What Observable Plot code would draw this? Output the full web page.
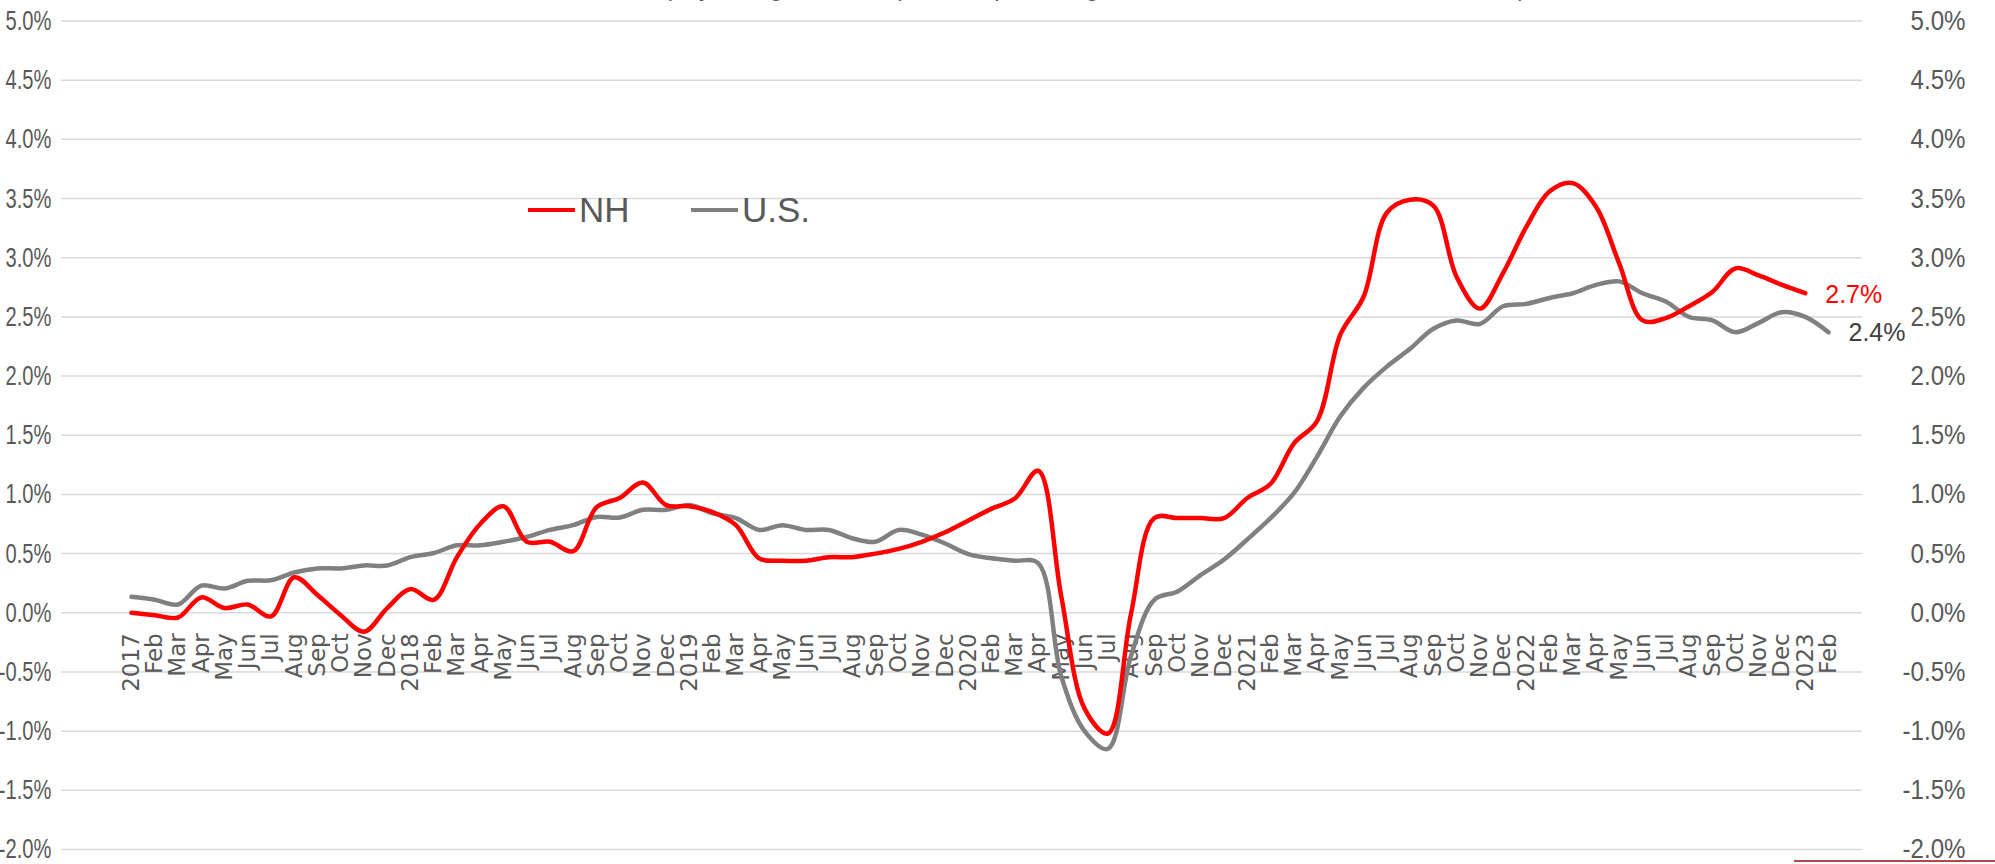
<!DOCTYPE html>
<html><head><meta charset="utf-8">
<script src="https://cdn.jsdelivr.net/npm/d3@7"></script>
<script src="https://cdn.jsdelivr.net/npm/@observablehq/plot@0.6"></script>
<style>
body{margin:0;background:#fff;overflow:hidden}
#wrap{position:relative;width:1995px;height:864px;overflow:hidden}
.leg{position:absolute;display:flex;align-items:center;height:36px;font-family:"Liberation Sans",Arial,sans-serif;font-size:35px;color:#595959}
.leg span.sw{display:inline-block;height:4.5px;margin-right:4px}
#edge{position:absolute;left:1794px;top:860px;width:201px;height:1.5px;background:#b04a4a}
</style></head><body><div id="wrap"></div>
<script>
const titleText = "Employment growth rate (3-month percentage rate of nonfarm total, at an annual rate)";
const xLabels = ["2017","Feb","Mar","Apr","May","Jun","Jul","Aug","Sep","Oct","Nov","Dec",
"2018","Feb","Mar","Apr","May","Jun","Jul","Aug","Sep","Oct","Nov","Dec",
"2019","Feb","Mar","Apr","May","Jun","Jul","Aug","Sep","Oct","Nov","Dec",
"2020","Feb","Mar","Apr","May","Jun","Jul","Aug","Sep","Oct","Nov","Dec",
"2021","Feb","Mar","Apr","May","Jun","Jul","Aug","Sep","Oct","Nov","Dec",
"2022","Feb","Mar","Apr","May","Jun","Jul","Aug","Sep","Oct","Nov","Dec",
"2023","Feb"];
const nhValues = [0.00,-0.02,-0.04,0.13,0.04,0.07,-0.03,0.30,0.15,-0.02,-0.16,0.04,
0.20,0.11,0.47,0.75,0.90,0.60,0.60,0.52,0.89,0.97,1.10,0.91,
0.90,0.85,0.74,0.46,0.44,0.44,0.47,0.47,0.50,0.54,0.60,0.68,
0.78,0.88,0.965,1.20,0.135,-0.81,-1.02,-0.005,0.80,0.80,0.80,0.80,
0.97,1.09,1.43,1.62,2.35,2.67,3.38,3.49,3.44,2.84,2.57,2.87,
3.26,3.56,3.63,3.43,2.95,2.47,2.49,2.59,2.71,2.91,2.85,2.77,
2.70];
const usValues = [0.135,0.11,0.07,0.23,0.205,0.27,0.275,0.34,0.375,0.375,0.40,0.40,
0.47,0.505,0.57,0.57,0.60,0.64,0.70,0.74,0.81,0.805,0.87,0.87,
0.91,0.84,0.80,0.70,0.74,0.70,0.70,0.63,0.60,0.70,0.66,0.585,
0.495,0.46,0.44,0.42,-0.54,-1.00,-1.15,-0.36,0.11,0.18,0.32,0.45,
0.62,0.80,1.01,1.32,1.66,1.90,2.08,2.23,2.40,2.47,2.44,2.59,
2.61,2.66,2.70,2.77,2.80,2.70,2.63,2.50,2.47,2.37,2.45,2.54,
2.50,2.37];
const yTicks = [-2,-1.5,-1,-0.5,0,0.5,1,1.5,2,2.5,3,3.5,4,4.5,5];
const seriesNames = ["NH","U.S."];
const seriesColors = ["#FF0000","#808080"];

const nh = nhValues.map((v,i)=>({i,v}));
const us = usValues.map((v,i)=>({i,v}));
const ticks = xLabels.map((t,i)=>({i,t}));
const fmt = d => d.toFixed(1) + "%";
const sans = "Liberation Sans, Arial, sans-serif";

const chart = Plot.plot({
  width: 1995, height: 864,
  marginLeft: 61, marginRight: 133, marginTop: 20.5, marginBottom: 15,
  style: {fontFamily: sans, background: "#fff", overflow: "visible"},
  x: {type: "linear", domain: [0, 73], range: [131, 1828], axis: null},
  y: {domain: [-2, 5], axis: null},
  marks: [
    Plot.gridY(yTicks, {stroke: "#d9d9d9", strokeOpacity: 1, strokeWidth: 1.5}),
    Plot.axisY(yTicks, {anchor: "left", label: null, tickSize: 0, tickPadding: 10, tickFormat: fmt, fontSize: 28, fill: "#595959", fontFamily: sans}),
    Plot.axisY(yTicks, {anchor: "right", label: null, tickSize: 0, tickPadding: 103, textAnchor: "end", tickFormat: fmt, fontSize: 28, fill: "#595959", fontFamily: sans}),
    Plot.text(ticks, {x: "i", y: () => 0, text: "t", rotate: -90, textAnchor: "end", lineAnchor: "middle", dy: 20.5, fontSize: 23, fill: "#595959", fontFamily: "DejaVu Sans"}),
    Plot.line(us, {x: "i", y: "v", stroke: seriesColors[1], strokeWidth: 4.5, curve: "catmull-rom"}),
    Plot.line(nh, {x: "i", y: "v", stroke: seriesColors[0], strokeWidth: 4.5, curve: "catmull-rom"}),
    Plot.text([nh[nh.length-1]], {x: "i", y: "v", text: d => fmt(d.v), textAnchor: "start", dx: 20, dy: 2, fontSize: 25, fill: "#FF0000", fontFamily: sans}),
    Plot.text([us[us.length-1]], {x: "i", y: "v", text: d => fmt(d.v), textAnchor: "start", dx: 20, dy: 1, fontSize: 25, fill: "#404040", fontFamily: sans}),
    Plot.text([titleText], {frameAnchor: "top-left", dx: 571, dy: -25, textAnchor: "start", lineAnchor: "bottom", fontSize: 23.5, fill: "#595959", fontFamily: sans})
  ]
});
const wrap = document.getElementById("wrap");
wrap.appendChild(chart);

// narrower tick-label glyphs, as in the reference
const axisGroups = chart.querySelectorAll('g[aria-label="y-axis tick label"]');
const squeeze = [0.72, 0.86];
axisGroups.forEach((g, k) => {
  g.querySelectorAll("text").forEach(t => {
    const len = t.getComputedTextLength();
    t.setAttribute("textLength", (len * squeeze[k]).toFixed(2));
    t.setAttribute("lengthAdjust", "spacingAndGlyphs");
  });
});

const legPos = [[528, 192], [691, 192]];
seriesNames.forEach((name, k) => {
  const d = document.createElement("div");
  d.className = "leg";
  d.style.left = legPos[k][0] + "px";
  d.style.top = legPos[k][1] + "px";
  d.innerHTML = `<span class="sw" style="width:47px;background:${seriesColors[k]}"></span>${name}`;
  wrap.appendChild(d);
});
const edge = document.createElement("div");
edge.id = "edge";
wrap.appendChild(edge);
</script></body></html>
